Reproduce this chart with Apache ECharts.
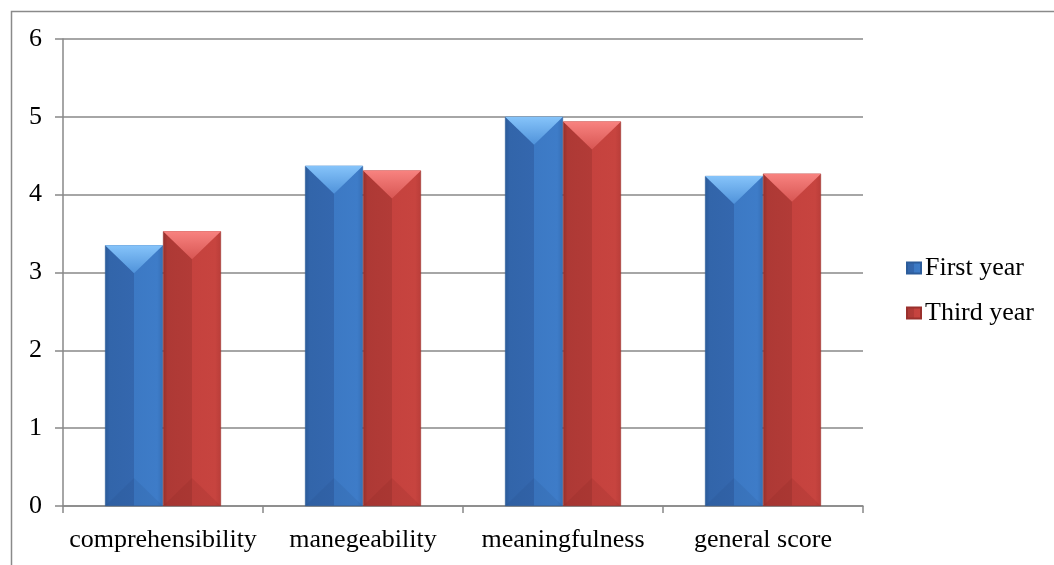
<!DOCTYPE html>
<html>
<head>
<meta charset="utf-8">
<script src="https://cdn.jsdelivr.net/npm/echarts@6/dist/echarts.min.js"></script>
<style>html,body{margin:0;padding:0;background:#fff}#c{width:1054px;height:565px}</style>
</head>
<body>
<div id="c"></div>
<script>
const categories = ['comprehensibility', 'manegeability', 'meaningfulness', 'general score'];
const firstYear = [3.35, 4.37, 5.0, 4.24];
const thirdYear = [3.53, 4.31, 4.94, 4.27];
const seriesNames = ['First year', 'Third year'];
const yTicks = [0, 1, 2, 3, 4, 5, 6];

const BAR_W = 58;
const FONT = '"Liberation Serif", "Times New Roman", serif';

const palettes = [
  { body: ['#2A5A98', '#3265AA', '#3467AE', '#3C79C4', '#3E7CC8', '#366FB6'],
    top: ['#86C4FA', '#4F92DA'], bottom: 'rgba(30,60,110,0.10)', border: '#2C5C9A' },
  { body: ['#93302D', '#AE3935', '#B23B37', '#C5423E', '#C7443F', '#B93D39'],
    top: ['#F88380', '#D85653'], bottom: 'rgba(100,20,20,0.10)', border: '#9A302D' }
];

function bodyGrad(p) {
  const c = p.body;
  return new echarts.graphic.LinearGradient(0, 0, 1, 0, [
    { offset: 0, color: c[0] }, { offset: 0.08, color: c[1] },
    { offset: 0.5, color: c[2] }, { offset: 0.5, color: c[3] },
    { offset: 0.9, color: c[4] }, { offset: 1, color: c[5] }
  ]);
}

function bevel(idx) {
  const p = palettes[idx];
  return function (params, api) {
    const cat = api.value(0), val = api.value(1);
    const top = api.coord([cat, val]);
    const base = api.coord([cat, 0]);
    const cx = top[0] + (idx === 0 ? -BAR_W / 2 : BAR_W / 2);
    const x0 = cx - BAR_W / 2, x1 = cx + BAR_W / 2;
    const h = Math.min(28, (base[1] - top[1]) / 2);
    return {
      type: 'group',
      children: [
        { type: 'polygon', shape: { points: [[x0, top[1]], [x1, top[1]], [cx, top[1] + h]] },
          style: { fill: new echarts.graphic.LinearGradient(0, 0, 0, 1, [
            { offset: 0, color: p.top[0] }, { offset: 1, color: p.top[1] }]) } },
        { type: 'polygon', shape: { points: [[x0, base[1]], [x1, base[1]], [cx, base[1] - h]] },
          style: { fill: p.bottom } }
      ]
    };
  };
}

const chart = echarts.init(document.getElementById('c'), null, { renderer: 'canvas' });
chart.setOption({
  backgroundColor: '#fff',
  animation: false,
  graphic: [{
    type: 'rect', left: 9, top: 9, silent: true, z: -1,
    shape: { x: 0, y: 0, width: 1100, height: 600 },
    style: { fill: 'none', stroke: '#8a8a8a', lineWidth: 1.5 }
  }],
  grid: { left: 63, right: 191, top: 39, bottom: 59, containLabel: false },
  legend: {
    data: seriesNames,
    orient: 'vertical', left: 906, top: 255, padding: 0,
    itemWidth: 14, itemHeight: 11, itemGap: 19,
    icon: 'rect',
    textStyle: { fontFamily: FONT, fontSize: 26, color: '#000', padding: [0, 0, 0, -1] }
  },
  xAxis: {
    type: 'category', data: categories,
    axisLine: { lineStyle: { color: '#888', width: 1.5 } },
    axisTick: { show: true, interval: 0, length: 7, lineStyle: { color: '#888', width: 1.5 } },
    axisLabel: { interval: 0, fontFamily: FONT, fontSize: 26, color: '#000', margin: 21 }
  },
  yAxis: {
    type: 'value', min: yTicks[0], max: yTicks[yTicks.length - 1], interval: 1,
    axisLine: { show: true, lineStyle: { color: '#888', width: 1.5 } },
    axisTick: { show: true, length: 8, lineStyle: { color: '#888', width: 1.5 } },
    axisLabel: { fontFamily: FONT, fontSize: 26, color: '#000', margin: 21 },
    splitLine: { lineStyle: { color: '#888', width: 1.5 } }
  },
  series: [
    { name: seriesNames[0], type: 'bar', data: firstYear, barWidth: BAR_W, barGap: '0%',
      itemStyle: { color: bodyGrad(palettes[0]), borderColor: palettes[0].border, borderWidth: 0.6 } },
    { name: seriesNames[1], type: 'bar', data: thirdYear, barWidth: BAR_W, barGap: '0%',
      itemStyle: { color: bodyGrad(palettes[1]), borderColor: palettes[1].border, borderWidth: 0.6 } },
    { type: 'custom', silent: true, z: 3, renderItem: bevel(0), encode: { x: 0, y: 1 },
      data: firstYear.map((v, i) => [i, v]) },
    { type: 'custom', silent: true, z: 3, renderItem: bevel(1), encode: { x: 0, y: 1 },
      data: thirdYear.map((v, i) => [i, v]) }
  ]
});
</script>
</body>
</html>
